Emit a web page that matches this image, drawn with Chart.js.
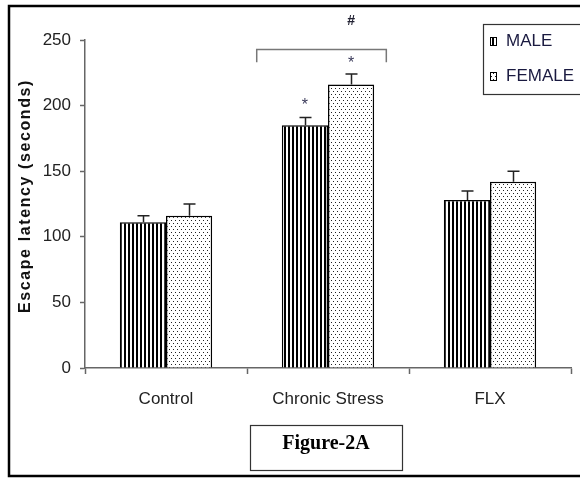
<!DOCTYPE html>
<html>
<head>
<meta charset="utf-8">
<script src="https://cdn.jsdelivr.net/npm/chart.js@4"></script>
<style>
  html, body { margin: 0; padding: 0; background: #fff; }
  #wrap { width: 580px; height: 478px; position: relative; }
</style>
</head>
<body>
<div id="wrap"><canvas id="c" width="580" height="478"></canvas></div>
<script>
const categories = ['Control', 'Chronic Stress', 'FLX'];
const seriesNames = ['MALE', 'FEMALE'];
const maleValues = [111, 185, 128];
const femaleValues = [116, 216, 142];
const maleErrors = [5, 6, 7];
const femaleErrors = [9, 8, 8];
const yTicks = [0, 50, 100, 150, 200, 250];
const yTitle = 'Escape latency (seconds)';
const figureLabel = 'Figure-2A';
const starMarks = [{ cat: 1, ds: 0, value: 202 }, { cat: 1, ds: 1, value: 234 }];
const hashMark = { cat: 1, text: '#', value: 264 };
const bracket = { cat: 1, top: 243, bottom: 233 };

const SANS = '"Liberation Sans", Arial, sans-serif';

function stripePattern() {
  const c = document.createElement('canvas');
  c.width = 4; c.height = 4;
  const x = c.getContext('2d');
  x.fillStyle = '#fff'; x.fillRect(0, 0, 4, 4);
  x.fillStyle = '#000'; x.fillRect(0, 0, 2, 4);
  return x.createPattern(c, 'repeat');
}
function dotPattern() {
  const c = document.createElement('canvas');
  c.width = 8; c.height = 6;
  const x = c.getContext('2d');
  x.fillStyle = '#fff'; x.fillRect(0, 0, 8, 6);
  x.fillStyle = '#222';
  x.fillRect(1, 1, 1, 1); x.fillRect(5, 1, 1, 1);
  x.fillRect(3, 4, 1, 1); x.fillRect(7, 4, 1, 1);
  return x.createPattern(c, 'repeat');
}
const ctx0 = document.getElementById('c').getContext('2d');
const malePat = stripePattern();
const femalePat = dotPattern();

const decor = {
  id: 'decor',
  beforeDraw(chart) {
    const c = chart.ctx;
    c.save();
    c.fillStyle = '#fff';
    c.fillRect(0, 0, chart.width, chart.height);
    c.restore();
  },
  afterDatasetsDraw(chart) {
    const c = chart.ctx;
    const xs = chart.scales.x, ys = chart.scales.y;
    const errs = [maleErrors, femaleErrors];
    const vals = [maleValues, femaleValues];
    c.save();
    c.strokeStyle = '#222';
    c.lineWidth = 1.5;
    for (let d = 0; d < 2; d++) {
      const meta = chart.getDatasetMeta(d);
      meta.data.forEach((bar, i) => {
        const x = Math.round(bar.x) + 0.5;
        const y0 = ys.getPixelForValue(vals[d][i]);
        const y1 = ys.getPixelForValue(vals[d][i] + errs[d][i]);
        c.beginPath();
        c.moveTo(x, y0); c.lineTo(x, y1);
        c.moveTo(x - 6, y1); c.lineTo(x + 6, y1);
        c.stroke();
      });
    }
    // stars
    c.fillStyle = '#3a3a5a';
    c.font = '16px ' + SANS;
    c.textAlign = 'center';
    c.textBaseline = 'middle';
    starMarks.forEach(s => {
      const bar = chart.getDatasetMeta(s.ds).data[s.cat];
      c.fillText('*', bar.x, ys.getPixelForValue(s.value) + 3);
    });
    // bracket
    const cw = (xs.right - xs.left) / categories.length;
    const cx = xs.getPixelForValue(bracket.cat);
    const bl = cx - 0.44 * cw, br = cx + 0.36 * cw;
    const bt = Math.round(ys.getPixelForValue(bracket.top)) + 0.5;
    const bb = ys.getPixelForValue(bracket.bottom);
    c.strokeStyle = '#777';
    c.lineWidth = 1.5;
    c.beginPath();
    c.moveTo(bl, bb); c.lineTo(bl, bt); c.lineTo(br, bt); c.lineTo(br, bb);
    c.stroke();
    c.font = 'bold 14px ' + SANS;
    c.fillStyle = '#223';
    const hb = chart.getDatasetMeta(1).data[hashMark.cat];
    c.fillText(hashMark.text, hb.x, ys.getPixelForValue(hashMark.value));
    c.restore();
  },
  afterDraw(chart) {
    const c = chart.ctx;
    c.save();
    // y title with letter spacing
    c.translate(26, 196);
    c.rotate(-Math.PI / 2);
    c.font = 'bold 16px ' + SANS;
    c.fillStyle = '#111';
    c.textAlign = 'center';
    c.textBaseline = 'middle';
    try { c.letterSpacing = '1.6px'; } catch (e) {}
    c.fillText(yTitle, 0, 0);
    c.restore();

    c.save();
    // legend
    c.strokeStyle = '#333';
    c.lineWidth = 1.2;
    c.strokeRect(483.5, 24.5, 110, 70);
    const pats = [malePat, femalePat];
    const ly = [41, 76];
    c.font = '17px ' + SANS;
    c.textBaseline = 'middle';
    c.textAlign = 'left';
    for (let i = 0; i < 2; i++) {
      c.fillStyle = pats[i];
      c.fillRect(490, ly[i] - 4, 7, 9);
      c.strokeStyle = '#000';
      c.lineWidth = 1;
      c.strokeRect(490.5, ly[i] - 3.5, 6, 8);
      c.fillStyle = '#1a1a40';
      c.fillText(seriesNames[i], 506, ly[i]);
    }
    // figure label box
    c.strokeStyle = '#333';
    c.lineWidth = 1.2;
    c.strokeRect(250.5, 425.5, 152, 45);
    c.fillStyle = '#000';
    c.font = 'bold 20px "Liberation Serif", "Times New Roman", serif';
    c.textAlign = 'center';
    c.fillText(figureLabel, 326, 444);
    // outer frame
    c.strokeStyle = '#000';
    c.lineWidth = 2.5;
    c.strokeRect(9, 6, 600, 470);
    c.restore();
  }
};

new Chart(ctx0, {
  type: 'bar',
  data: {
    labels: categories,
    datasets: [
      { label: seriesNames[0], data: maleValues, backgroundColor: malePat, borderColor: '#000', borderWidth: 1.5 },
      { label: seriesNames[1], data: femaleValues, backgroundColor: femalePat, borderColor: '#000', borderWidth: 1.5 }
    ]
  },
  options: {
    responsive: false,
    animation: false,
    devicePixelRatio: 1,
    layout: { padding: { top: 40, right: 9, left: 0, bottom: 0 } },
    datasets: { bar: { barPercentage: 1.0, categoryPercentage: 0.57 } },
    plugins: { legend: { display: false }, tooltip: { enabled: false }, title: { display: false } },
    scales: {
      x: {
        afterFit(s) { s.height = 110; },
        grid: { offset: true, drawOnChartArea: false, drawTicks: true, tickLength: 6, tickColor: '#666', tickWidth: 1.5 },
        border: { color: '#666', width: 1.5 },
        ticks: { color: '#222', font: { family: SANS, size: 17 }, padding: 15 }
      },
      y: {
        min: 0, max: 250,
        afterFit(s) { s.width = 85; },
        afterBuildTicks(s) { s.ticks = yTicks.map(v => ({ value: v })); },
        grid: { drawOnChartArea: false, drawTicks: true, tickLength: 5, tickColor: '#666', tickWidth: 1.5 },
        border: { color: '#666', width: 1.5 },
        ticks: { color: '#222', font: { family: SANS, size: 17 }, padding: 9 }
      }
    }
  },
  plugins: [decor]
});
</script>
</body>
</html>
